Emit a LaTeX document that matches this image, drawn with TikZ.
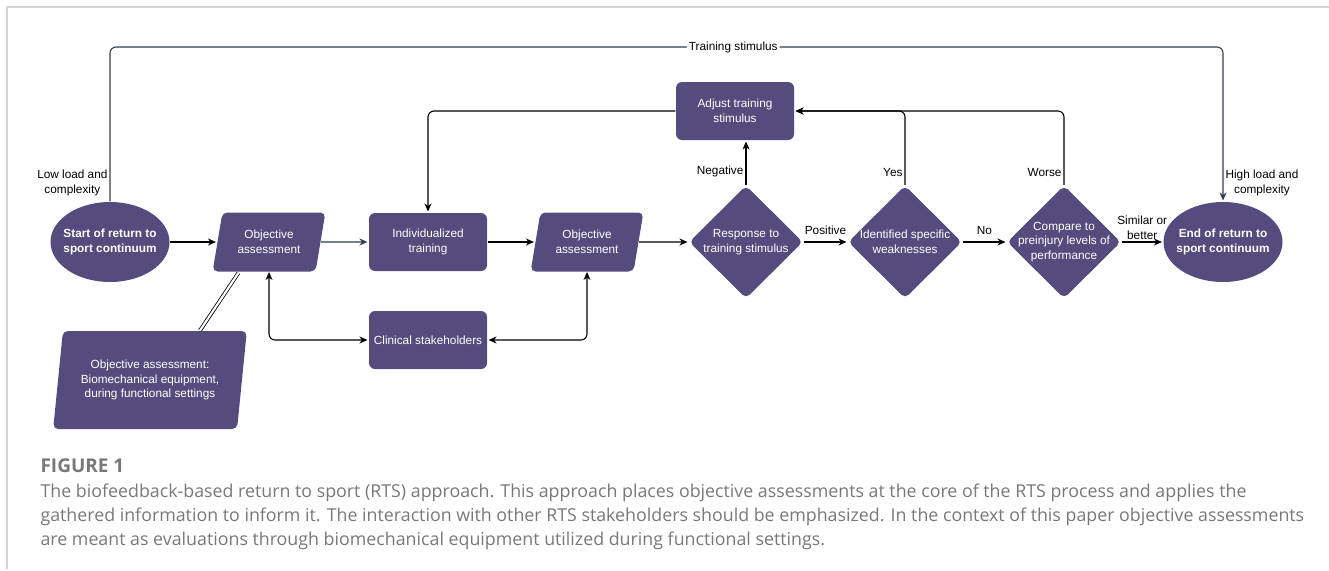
\documentclass[tikz,border=0pt]{standalone}
\usepackage{fontspec}
\setmainfont{Liberation Sans}
\newfontfamily\capfont{Open Sans}
\usepackage{tikz}
\usetikzlibrary{shapes.geometric,positioning,arrows.meta}
\usepackage{xcolor}
\definecolor{nodefill}{RGB}{85,76,125}
\definecolor{stimline}{RGB}{47,62,78}
\definecolor{capgray}{RGB}{120,120,120}
\definecolor{framegray}{RGB}{212,212,212}

\begin{document}
\begin{tikzpicture}[x=1pt,y=-1pt,->,>={Stealth[length=8pt,width=7pt,inset=2.5pt]},shorten >=1pt,auto,node distance=159pt,
        line width=1.1pt,
        main node/.style={fill=nodefill,text=white,font=\fontsize{11.8}{14.5}\selectfont,align=center,inner sep=0pt},
        box node/.style={main node,rectangle,rounded corners=6pt,minimum width=118pt,minimum height=58pt},
        data node/.style={main node,trapezium,trapezium left angle=74,trapezium right angle=106,trapezium stretches=true,rounded corners=5pt,minimum width=113pt,minimum height=59pt},
        choice node/.style={main node,diamond,rounded corners=5pt,inner sep=-14pt,minimum width=114pt,minimum height=113pt},
        end node/.style={main node,ellipse,inner sep=-6pt,minimum width=119pt,minimum height=80pt,font=\fontsize{11.8}{14.5}\selectfont\bfseries},
        lbl/.style={font=\fontsize{11.8}{14.5}\selectfont,text=black,align=center,inner sep=2pt}]

    \useasboundingbox (0,0) rectangle (1329,570);
    \draw[-,framegray,line width=1.5pt] (1329,7) -- (7,7) -- (7,570);

    \node[end node] (1) at (110,242) {Start of return to\\sport continuum};
    \node[data node] (2) [right of=1] {Objective\\assessment};
    \node[box node] (3) [right of=2] {Individualized\\training};
    \node[data node] (4) [right of=3] {Objective\\assessment};
    \node[choice node] (5) [right of=4] {Response to\\training stimulus};
    \node[choice node] (6) [right of=5] {Identified specific\\weaknesses};
    \node[choice node] (7) [right of=6] {Compare to\\preinjury levels of\\performance};
    \node[end node] (8) [right of=7] {End of return to\\sport continuum};
    \node[box node] (9) at (735,111) {Adjust training\\stimulus};
    \node[box node] (10) [below of=3, node distance=98pt] {Clinical stakeholders};
    \node[data node,trapezium left angle=79,trapezium right angle=101,minimum width=194pt,minimum height=98pt] (11) at (150,380)
        {Objective assessment:\\Biomechanical equipment,\\during functional settings};
    \coordinate (top) at (0,47);

    \path
    (1) edge (2)
    (2) edge[stimline] (3)
    (3) edge (4)
    (4) edge (5)
    (5) edge node[lbl,above=5pt] {Positive} (6)
    (6) edge node[lbl,above=5pt] {No} (7)
    (7) edge node[lbl] {Similar or\\better} (8)
    ;

    % training stimulus loop
    \draw[stimline,rounded corners=6pt] (1.north)
        -- node[lbl,left,pos=.12] {Low load and\\complexity} (1.north |- top)
        -- node[lbl,anchor=center,fill=white,pos=.56] {Training stimulus} (8.north |- top)
        -- node[lbl,right,pos=.88] {High load and\\complexity} (8.north);

    \draw[rounded corners=6pt] (6.north) |- node[lbl,left,pos=.085] {Yes} (9.east);
    \draw[rounded corners=6pt] (7.north) |- node[lbl,left,pos=.085] {Worse} (9.east);
    \draw[rounded corners=6pt] (9.west) -| (3.north);
    \draw (5.north) -- node[lbl,left,pos=.3] {Negative} (5.north |- 9.south);

    \draw[<->,rounded corners=6pt] (2.south) |- (10.west);
    \draw[<->,rounded corners=6pt] (4.south) |- (10.east);
    \draw[-,double,double distance=2.2pt,line width=0.8pt] ([xshift=50pt]11.north) -- ([xshift=-30pt]2.south);

    % caption
    \node[anchor=base west,inner sep=0pt,text=capgray,font=\capfont\bfseries\fontsize{19}{22}\selectfont] (fig) at (40,472) {FIGURE 1};
    \node[anchor=north west,inner sep=0pt,text=capgray,align=left,font=\capfont\fontsize{17.8}{24}\selectfont] (cap) at (40,483)
        {The biofeedback-based return to sport (RTS) approach. This approach places objective assessments at the core of the RTS process and applies the\\
         gathered information to inform it. The interaction with other RTS stakeholders should be emphasized. In the context of this paper objective assessments\\
         are meant as evaluations through biomechanical equipment utilized during functional settings.};

\end{tikzpicture}
\end{document}
